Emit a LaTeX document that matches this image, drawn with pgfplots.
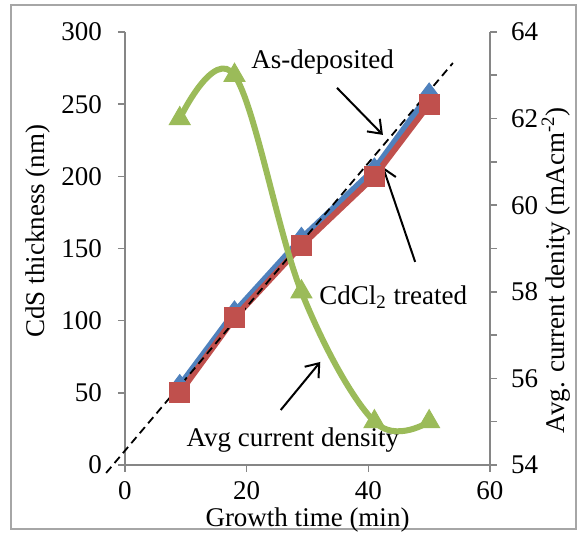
\documentclass[border=0pt]{standalone}
\usepackage{fontspec}
\setmainfont{Liberation Serif}
\usepackage{pgfplots}
\pgfplotsset{compat=1.18}
\usetikzlibrary{arrows.meta}
\definecolor{xlblue}{HTML}{4F81BD}
\definecolor{xlred}{HTML}{C0504D}
\definecolor{xlgreen}{HTML}{9BBB59}
\definecolor{axgray}{HTML}{868686}

\begin{document}
\begin{tikzpicture}[font=\fontsize{13.5}{16}\selectfont]
\useasboundingbox (-62.5pt,-34.5pt) rectangle (226.5pt,232.5pt);
\draw[color=gray!70, line width=0.75pt] (-57pt,-32pt) rectangle (225.5pt,230pt);
\pgfplotsset{every axis/.append style={
  scale only axis, width=182.5pt, height=216.5pt,
  at={(0,0)}, anchor=south west,
  xmin=0, xmax=60, clip=false,
  axis line style={-, draw=axgray, line width=0.8pt},
  tick style={draw=axgray, line width=0.8pt},
  tick align=outside, major tick length=3.5pt, minor tick length=3.5pt,
  /pgf/number format/assume math mode=true,
  tick label style={font=\fontsize{13.5}{16}\selectfont},
  label style={font=\fontsize{13.5}{16}\selectfont},
}}

\begin{axis}[
  ymin=0, ymax=300,
  axis x line*=bottom, axis y line*=left,
  xtick={0,20,40,60}, ytick={0,50,...,300},
  xticklabel style={yshift=-1pt},
  yticklabel style={xshift=-4.5pt},
  xlabel={Growth time (min)}, ylabel={CdS thickness (nm)},
  xlabel style={at={(axis description cs:0.5,-0.127)}, anchor=center, inner sep=0pt},
  ylabel style={at={(axis description cs:-0.238,0.54)}, anchor=center},
]
% as-deposited
\addplot[xlblue, line width=3pt, mark=diamond*, mark size=5.5pt, mark options={line width=0.5pt}]
  coordinates {(9,55) (18,106) (29,157) (41,205) (50,257)};
% CdCl2 treated
\addplot[xlred, line width=3pt, mark=square*, mark size=5pt, mark options={line width=0.5pt}]
  coordinates {(9,50) (18,102) (29,152) (41,200) (50,250)};
% trend line
\addplot[black, line width=0.9pt, dash pattern=on 4pt off 2.5pt]
  coordinates {(-3.1,-5.5) (53.9,278.5)};

\node at (axis cs:32.5,279.3) {As-deposited};
\draw[line width=1pt, -{Straight Barb[length=6pt,width=9pt]}] (axis cs:34.85,261.3) -- (axis cs:42.4,228.7);
\node at (axis cs:44.1,116.4) {CdCl\textsubscript{2} treated};
\draw[line width=1pt, -{Straight Barb[length=6pt,width=9pt]}] (axis cs:47.7,140.7) -- (axis cs:42.4,206.5);
\node at (axis cs:27.6,17.3) {Avg current density};
\draw[line width=1pt, -{Straight Barb[length=6pt,width=9pt]}] (axis cs:25.6,38.1) -- (axis cs:32.1,71.4);
\end{axis}

\begin{axis}[
  ymin=54, ymax=64,
  axis x line=none, axis y line*=right,
  ytick={54,56,...,64}, minor ytick={55,57,...,63},
  yticklabel style={xshift=3.5pt},
  ylabel={Avg. current denity (mAcm\textsuperscript{-2})},
  ylabel style={at={(axis description cs:1.181,0.45)}, anchor=center},
]
\addplot[xlgreen, line width=3pt, smooth, tension=0.6, mark=triangle*, mark size=6pt, mark options={line width=0.5pt}]
  coordinates {(9,62) (18,63) (29,58) (41,55) (50,55)};
\end{axis}
\end{tikzpicture}
\end{document}
